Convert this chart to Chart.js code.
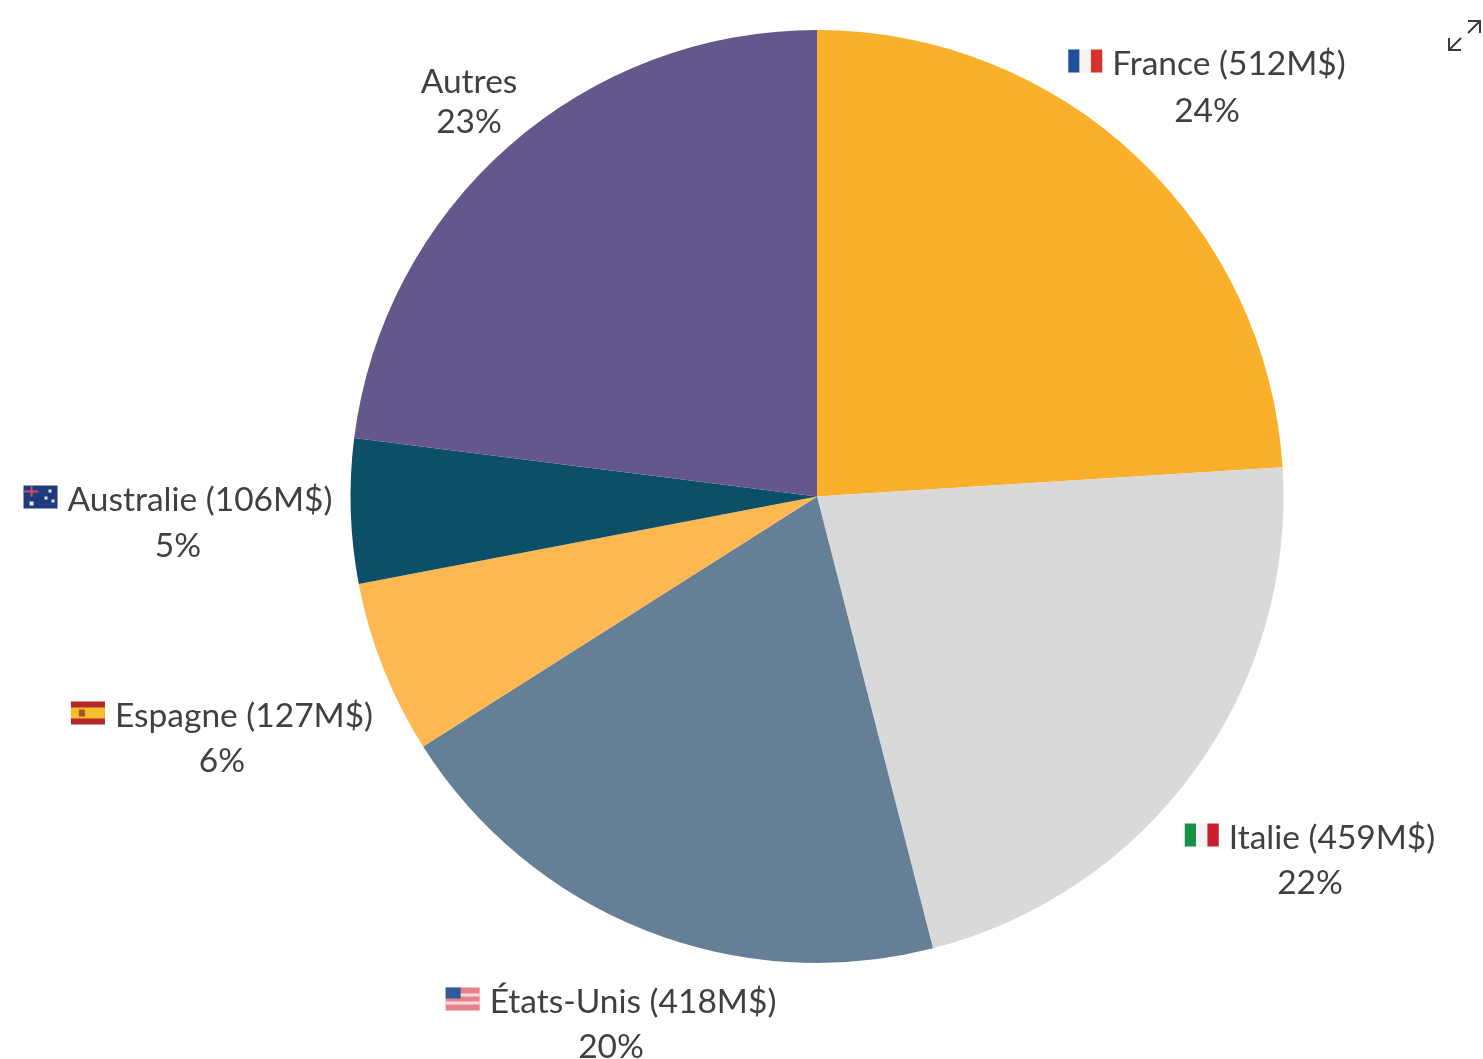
<!DOCTYPE html>
<html lang="fr">
<head>
<meta charset="utf-8">
<title>Répartition par pays</title>
<script src="https://cdn.jsdelivr.net/npm/chart.js@4"></script>
<style>
  html, body { margin: 0; padding: 0; background: #fff; }
  body { width: 1483px; height: 1059px; overflow: hidden; position: relative; }
  #chart { position: absolute; left: 0; top: 0; filter: blur(0.7px); }
  #expand { position: absolute; left: 1445px; top: 16px; }
</style>
</head>
<body>
<canvas id="chart" width="1483" height="1059"></canvas>
<svg id="expand" width="38" height="38" viewBox="1445 16 38 38" fill="none" stroke="#3a3a3a" stroke-width="2">
  <path d="M1449 38V50H1461M1449 50L1461 38"/>
  <path d="M1468 21H1480V33M1480 21L1468 33"/>
</svg>
<script>
const categories = ["France", "Italie", "États-Unis", "Espagne", "Australie", "Autres"]
const amounts = ["512M$", "459M$", "418M$", "127M$", "106M$", null]
const percents = [24, 22, 20, 6, 5, 23]
const sliceColors = ["#FBB02C", "#D9D9D9", "#647F96", "#FDB851", "#0C4F66", "#63578B"]

// block centre and the two text rows of each label, same order as categories
const labelSpots = [
  { x: 1207, y1: 64, y2: 111 },
  { x: 1310, y1: 838, y2: 883 },
  { x: 611, y1: 1002, y2: 1047 },
  { x: 222, y1: 716, y2: 761 },
  { x: 178, y1: 500, y2: 546 },
  { x: 469, y1: 82, y2: 122 },
]

const FLAG_W = 34
const FLAG_H = 23
const FLAG_GAP = 10
const FONT = '33.5px Lato, "Open Sans", sans-serif'

const flagPainters = {
  "France": (c, x, y) => {
    bars(c, x, y, ["#1F4E9A", "#F4F4F4", "#D8332B"])
  },
  "Italie": (c, x, y) => {
    bars(c, x, y, ["#1A9148", "#F4F4F4", "#C8202F"])
  },
  "Espagne": (c, x, y) => {
    c.fillStyle = "#B8262B"
    c.fillRect(x, y, FLAG_W, FLAG_H)
    c.fillStyle = "#F5BE2E"
    c.fillRect(x, y + 6, FLAG_W, FLAG_H - 12)
    c.fillStyle = "#A5522A"
    c.fillRect(x + 8, y + 8, 6, 7)
  },
  "Australie": (c, x, y) => {
    c.fillStyle = "#1F3A7D"
    c.fillRect(x, y, FLAG_W, FLAG_H)
    c.fillStyle = "#C9506A"
    c.fillRect(x, y + 5, 15, 2)
    c.fillRect(x + 7, y, 2, 11)
    c.fillStyle = "#E6E6F0"
    c.fillRect(x + 6, y + 16, 4, 4)
    c.fillRect(x + 25, y + 4, 3, 3)
    c.fillRect(x + 21, y + 11, 3, 3)
    c.fillRect(x + 28, y + 14, 3, 3)
  },
  "États-Unis": (c, x, y) => {
    c.fillStyle = "#E8808A"
    c.fillRect(x, y, FLAG_W, FLAG_H)
    c.fillStyle = "#F6DADA"
    c.fillRect(x, y + 6, FLAG_W, 3)
    c.fillRect(x, y + 14, FLAG_W, 3)
    c.fillStyle = "#2F5C9E"
    c.fillRect(x, y, 15, 11)
  },
}

function bars(c, x, y, colors) {
  const w = FLAG_W / colors.length
  colors.forEach((color, i) => {
    c.fillStyle = color
    c.fillRect(x + i * w, y, w, FLAG_H)
  })
}

const sliceLabels = {
  id: "sliceLabels",
  afterDraw(chart) {
    const c = chart.ctx
    c.save()
    c.font = FONT
    c.fillStyle = "#404040"
    c.textBaseline = "middle"
    categories.forEach((name, i) => {
      const spot = labelSpots[i]
      const text = amounts[i] ? `${name} (${amounts[i]})` : name
      const paint = flagPainters[name]
      const textW = c.measureText(text).width
      const blockW = paint ? FLAG_W + FLAG_GAP + textW : textW
      const left = spot.x - blockW / 2
      if (paint) {
        paint(c, left, spot.y1 - FLAG_H / 2 - 3)
        c.fillStyle = "#404040"
      }
      c.textAlign = "left"
      c.fillText(text, paint ? left + FLAG_W + FLAG_GAP : left, spot.y1)
      c.textAlign = "center"
      c.fillText(`${percents[i]}%`, spot.x, spot.y2)
    })
    c.restore()
  },
}

new Chart(document.getElementById("chart"), {
  type: "pie",
  data: {
    labels: categories,
    datasets: [{
      data: percents,
      backgroundColor: sliceColors,
      borderWidth: 0,
    }],
  },
  options: {
    responsive: false,
    animation: false,
    layout: { padding: { left: 350, right: 199, top: 30, bottom: 96 } },
    plugins: {
      legend: { display: false },
      tooltip: { enabled: false },
    },
  },
  plugins: [sliceLabels],
})
</script>
</body>
</html>
